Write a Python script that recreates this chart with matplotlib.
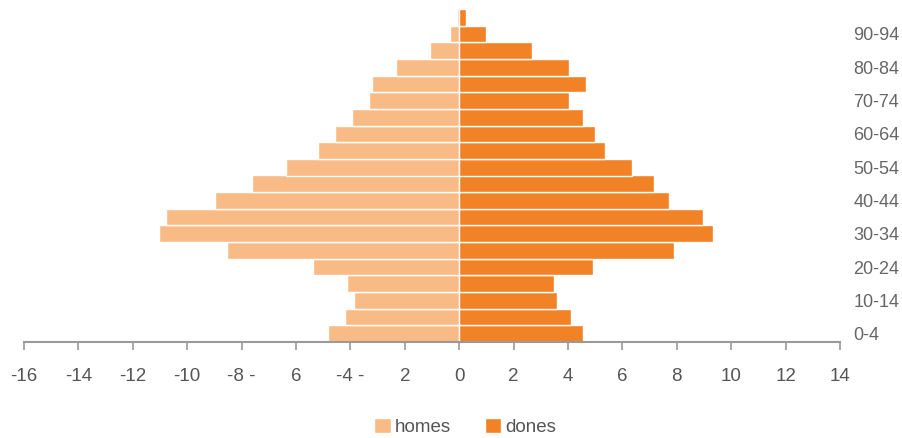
import matplotlib
matplotlib.use("Agg")
import matplotlib.pyplot as plt
import numpy as np

age_groups = ["0-4", "5-9", "10-14", "15-19", "20-24", "25-29", "30-34", "35-39",
              "40-44", "45-49", "50-54", "55-59", "60-64", "65-69", "70-74",
              "75-79", "80-84", "85-89", "90-94", "95-99"]
homes = [-4.83, -4.20, -3.85, -4.12, -5.37, -8.52, -11.03, -10.77, -8.97, -7.61,
         -6.36, -5.18, -4.56, -3.93, -3.31, -3.21, -2.32, -1.07, -0.33, -0.08]
dones = [4.56, 4.12, 3.58, 3.49, 4.92, 7.89, 9.33, 8.97, 7.71, 7.16,
         6.36, 5.37, 5.01, 4.56, 4.02, 4.66, 4.02, 2.67, 0.97, 0.25]
x_ticks = [-16, -14, -12, -10, -8, -6, -4, -2, 0, 2, 4, 6, 8, 10, 12, 14]
x_tick_labels = ["-16", "-14", "-12", "-10", "-8 -", "6", "-4 -", "2", "0",
                 "2", "4", "6", "8", "10", "12", "14"]

plt.rcParams['font.family'] = ['Liberation Sans', 'DejaVu Sans']

fig = plt.figure(figsize=(9.03, 4.38), dpi=100)
ax = fig.add_axes([24/903, (438-342)/438, (840-24)/903, (342-9)/438])

y = np.arange(len(age_groups))
c_homes = "#F9BB86"
c_dones = "#F28226"
ax.barh(y, homes, height=1.0, color=c_homes, edgecolor="white", linewidth=1, label="homes")
ax.barh(y, dones, height=1.0, color=c_dones, edgecolor="white", linewidth=1, label="dones")

ax.set_xlim(-16, 14)
ax.set_ylim(-0.5, len(age_groups) - 0.5)

for s in ["top", "left", "right"]:
    ax.spines[s].set_visible(False)
ax.spines["bottom"].set_color("#9a9a9a")
ax.spines["bottom"].set_linewidth(1.5)

ax.set_xticks(x_ticks)
ax.set_xticklabels(x_tick_labels)
ax.tick_params(axis="x", direction="out", length=6, width=1.2, color="#9a9a9a",
               labelcolor="#555555", labelsize=13.5, pad=13)

ax.yaxis.tick_right()
ax.set_yticks(y[::2])
ax.set_yticklabels(age_groups[::2])
ax.tick_params(axis="y", length=0, pad=9.5, labelcolor="#666666", labelsize=13)

fig.legend(loc="center", bbox_to_anchor=(0.515, 11/438), ncol=2, frameon=False,
           handlelength=0.9, handleheight=0.9, handletextpad=0.2, columnspacing=1.8,
           fontsize=13.5, labelcolor="#555555", borderpad=0)

fig.savefig("out.png", dpi=100)
